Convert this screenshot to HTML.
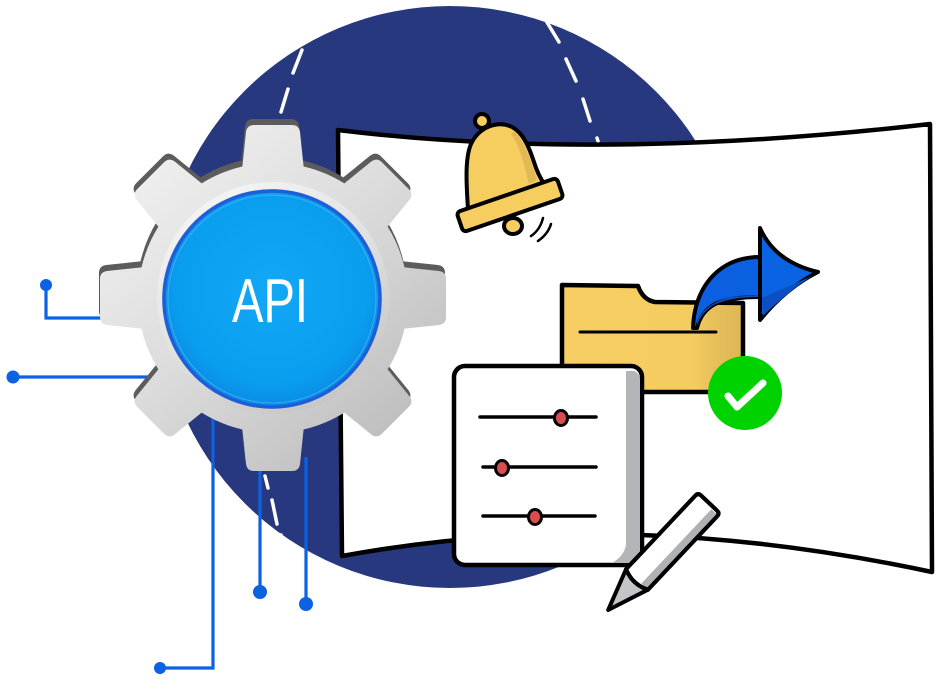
<!DOCTYPE html>
<html><head><meta charset="utf-8"><style>
html,body{margin:0;padding:0;background:#fff;}
svg{display:block;}
</style></head><body>
<svg width="940" height="690" viewBox="0 0 940 690" xmlns="http://www.w3.org/2000/svg">
<defs>
  <clipPath id="gc">
    <circle cx="273" cy="298" r="135"/>
    <path d="M-32,-118 L-27,-166 Q-26,-173 -19,-173 L19,-173 Q26,-173 27,-166 L32,-118 Z" transform="translate(273,298) rotate(0)"/>
    <path d="M-32,-118 L-27,-166 Q-26,-173 -19,-173 L19,-173 Q26,-173 27,-166 L32,-118 Z" transform="translate(273,298) rotate(45)"/>
    <path d="M-32,-118 L-27,-166 Q-26,-173 -19,-173 L19,-173 Q26,-173 27,-166 L32,-118 Z" transform="translate(273,298) rotate(90)"/>
    <path d="M-32,-118 L-27,-166 Q-26,-173 -19,-173 L19,-173 Q26,-173 27,-166 L32,-118 Z" transform="translate(273,298) rotate(135)"/>
    <path d="M-32,-118 L-27,-166 Q-26,-173 -19,-173 L19,-173 Q26,-173 27,-166 L32,-118 Z" transform="translate(273,298) rotate(180)"/>
    <path d="M-32,-118 L-27,-166 Q-26,-173 -19,-173 L19,-173 Q26,-173 27,-166 L32,-118 Z" transform="translate(273,298) rotate(225)"/>
    <path d="M-32,-118 L-27,-166 Q-26,-173 -19,-173 L19,-173 Q26,-173 27,-166 L32,-118 Z" transform="translate(273,298) rotate(270)"/>
    <path d="M-32,-118 L-27,-166 Q-26,-173 -19,-173 L19,-173 Q26,-173 27,-166 L32,-118 Z" transform="translate(273,298) rotate(315)"/>
  </clipPath>
  <linearGradient id="gg" gradientUnits="userSpaceOnUse" x1="130" y1="140" x2="420" y2="470">
    <stop offset="0" stop-color="#f2f2f2"/>
    <stop offset="0.45" stop-color="#dcdcdc"/>
    <stop offset="1" stop-color="#b8b8b8"/>
  </linearGradient>
  <linearGradient id="ring" x1="0.2" y1="0" x2="0.8" y2="1">
    <stop offset="0" stop-color="#f6f6f6"/>
    <stop offset="0.5" stop-color="#e0e0e0"/>
    <stop offset="1" stop-color="#c2c2c2"/>
  </linearGradient>
  <radialGradient id="blue" cx="0.5" cy="0.45" r="0.55">
    <stop offset="0" stop-color="#12a8f6"/>
    <stop offset="0.8" stop-color="#0a9eef"/>
    <stop offset="1" stop-color="#0a8ce4"/>
  </radialGradient>
  <linearGradient id="fold" gradientUnits="userSpaceOnUse" x1="562" y1="0" x2="743" y2="0">
    <stop offset="0" stop-color="#f6ce62"/>
    <stop offset="0.72" stop-color="#f5cc60"/>
    <stop offset="0.85" stop-color="#e6be5a"/>
    <stop offset="1" stop-color="#ddb656"/>
  </linearGradient>
</defs>

<!-- big dark circle -->
<circle cx="450" cy="297" r="291" fill="#28387e"/>

<!-- white dashes -->
<g stroke="#fff" stroke-width="3.5" stroke-linecap="round" fill="none">
  <path d="M302,50 L293,73"/>
  <path d="M288,89 L281,112"/>
  <path d="M545,19 L559,42"/>
  <path d="M566,59 L576,81"/>
  <path d="M583,99 L590,121"/>
  <path d="M597,138 L598,141"/>
  <path d="M265,476 L268,488"/>
  <path d="M272,500 L277,524"/>
  <path d="M281,535 L284,541"/>
</g>

<!-- panel -->
<path d="M338,130 Q600,162 930,124 L932,572 Q620,505 342,556 Z" fill="#fff" stroke="#000" stroke-width="4.5" stroke-linejoin="round"/>

<!-- circuit lines -->
<g stroke="#0b62e3" stroke-width="3.2" fill="none">
  <path d="M46,285 L46,318 L106,318"/>
  <path d="M13,377 L152,377"/>
  <path d="M213,410 L213,668 L160,668"/>
  <path d="M260,462 L260,592"/>
  <path d="M306,457 L306,604"/>
</g>
<g fill="#0b62e3">
  <circle cx="46" cy="285" r="6"/>
  <circle cx="13" cy="377" r="6.5"/>
  <circle cx="160" cy="668" r="6"/>
  <circle cx="260" cy="592" r="7"/>
  <circle cx="306" cy="604" r="7"/>
</g>

<!-- gear -->
<g transform="translate(-1,-6)">
  <rect x="80" y="110" width="390" height="390" fill="#5c5c5c" clip-path="url(#gc)"/>
</g>
<rect x="80" y="110" width="390" height="390" fill="url(#gg)" clip-path="url(#gc)"/>
<circle cx="273" cy="298" r="116" fill="url(#ring)"/>
<circle cx="272" cy="299" r="110" fill="#c8c8c8"/>
<circle cx="272" cy="299" r="108" fill="url(#blue)" stroke="#1d5fd8" stroke-width="3.5"/>
<circle cx="272" cy="299" r="104" fill="none" stroke="#5fbff7" stroke-width="1" opacity="0.6"/>
<text x="270" y="322" font-family="Liberation Sans, sans-serif" font-size="62" fill="#fff" text-anchor="middle" textLength="76" lengthAdjust="spacingAndGlyphs">API</text>

<!-- bell -->
<g stroke="#000" stroke-width="4" stroke-linejoin="round" stroke-linecap="round">
  <circle cx="482" cy="121" r="7" fill="#f6cd5f"/>
  <ellipse cx="513" cy="226" rx="9" ry="8" fill="#f6cd5f"/>
  <path d="M468,209 C466,180 465,155 472,142 C480,127 498,120 512,127 C524,133 530,150 534,162 C537,172 540,178 545,185 Z" fill="#f6cd5f"/>
  <path d="M514,131 C524,140 530,158 537,180 L529,184 C524,165 520,146 511,134 Z" fill="#e3b857" stroke="none"/>
  <rect x="-53" y="-10.5" width="106" height="21" rx="4" transform="translate(510,205) rotate(-19)" fill="#f6cd5f"/>
  <path d="M531,236 Q540,230 543,218" fill="none" stroke-width="2.5"/>
  <path d="M538,241 Q548,234 551,224" fill="none" stroke-width="2.5"/>
</g>

<!-- folder -->
<path d="M562,285 L638,286 Q643,300 655,302 L743,303 L743,392 L562,392 Z" fill="url(#fold)" stroke="#000" stroke-width="4.5" stroke-linejoin="round"/>
<path d="M580,332 L716,332" stroke="#000" stroke-width="3" stroke-linecap="round"/>

<!-- arrow -->
<g stroke="#000" stroke-width="4" stroke-linejoin="round">
  <path d="M693,328 C694,300 705,280 722,268 C735,259 748,257 760,257 L760,297 C745,297 728,298 715,304 C706,309 700,316 697,328 Z" fill="#0a60e0"/>
  <path d="M760,228 Q775,262 818,272 Q786,288 760,320 Z" fill="#0a63e2"/>
</g>
<path d="M762,298 L812,276 Q790,290 763,316 Z" fill="#0b4fc2"/>
<path d="M697,322 C702,310 712,302 730,297 L758,295 L758,297 C740,297 722,300 712,306 C704,312 699,318 697,326 Z" fill="#0b4fc2"/>

<!-- check -->
<circle cx="745" cy="393" r="37" fill="#00d200"/>
<polyline points="728,396 737,407 763,383" fill="none" stroke="#fff" stroke-width="7" stroke-linecap="round" stroke-linejoin="round"/>

<!-- document -->
<rect x="454" y="366" width="188" height="199" rx="11" fill="#fff" stroke="#000" stroke-width="4.5"/>
<path d="M626,371 L634,371 Q640,373 640,380 L640,553 Q639,562 630,563 L612,563 Q624,556 626,545 Z" fill="#b4b5b9"/>
<g stroke="#000" stroke-width="3.5" stroke-linecap="round">
  <path d="M480,417 L596,417"/>
  <path d="M483,467 L596,467"/>
  <path d="M483,516 L595,516"/>
</g>
<g fill="#d94c4f" stroke="#000" stroke-width="3">
  <ellipse cx="561" cy="418" rx="6.5" ry="7.5"/>
  <ellipse cx="502" cy="468" rx="6.5" ry="7.5"/>
  <ellipse cx="535" cy="517" rx="6.5" ry="7.5"/>
</g>

<!-- pencil -->
<g transform="translate(709,503) rotate(133.3)" stroke-linejoin="round">
  <path d="M105,-15 L147,0 L105,15 Q112,0 105,-15 Z" fill="#c4c5c9" stroke="#000" stroke-width="4"/>
  <path d="M4,-15 L105,-15 Q112,0 105,15 L4,15 Q0,15 0,11 L0,-11 Q0,-15 4,-15 Z" fill="#fff" stroke="#000" stroke-width="4"/>
  <rect x="3" y="-13" width="102" height="7" fill="#b0b1b5"/>
  <path d="M4,-15 L105,-15 Q112,0 105,15 L4,15 Q0,15 0,11 L0,-11 Q0,-15 4,-15 Z" fill="none" stroke="#000" stroke-width="4"/>
</g>
</svg>
</body></html>
